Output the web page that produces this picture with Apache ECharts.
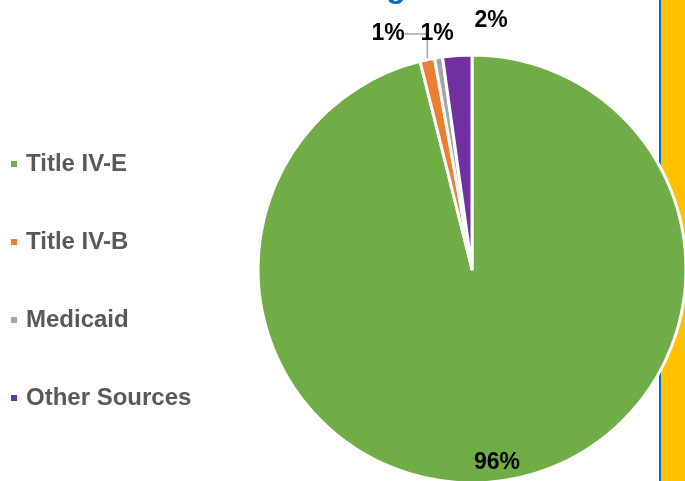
<!DOCTYPE html>
<html>
<head>
<meta charset="utf-8">
<script src="https://cdn.jsdelivr.net/npm/echarts@6/dist/echarts.min.js"></script>
<style>
html,body{margin:0;padding:0;background:#fff;}
#chart{width:685px;height:481px;}
</style>
</head>
<body>
<div id="chart"></div>
<script>
const categories = ['Title IV-E', 'Title IV-B', 'Medicaid', 'Other Sources'];
const values = [96.1, 1.1, 0.6, 2.2];
const sliceColors = ['#70AD47', '#ED7D31', '#A5A5A5', '#7030A0'];
const titleTail = 'g';

// label anchor positions (layout only)
const labelPos = [[497, 463], [388, 34], [437, 34], [491, 21]];

const chart = echarts.init(document.getElementById('chart'));
const FONT = '"Liberation Sans", Arial, sans-serif';

const data = categories.map((name, i) => ({
  name: name,
  value: values[i],
  itemStyle: { color: sliceColors[i] },
  label: { position: i === 0 ? 'inside' : 'outside' },
  labelLine: { show: i === 1, lineStyle: { color: '#A6A6A6', width: 1.5 } }
}));

chart.setOption({
  animation: false,
  backgroundColor: '#ffffff',
  graphic: [
    { type: 'rect', z: 0, shape: { x: 661, y: 0, width: 30, height: 481 }, style: { fill: '#FFC000' } },
    { type: 'rect', z: 0, shape: { x: 659, y: 0, width: 2, height: 481 }, style: { fill: '#0070C0' } },
    { type: 'text', z: 0, x: 396, y: -12, style: { text: titleTail, font: 'bold 32px ' + FONT, fill: '#0070C0', align: 'center', verticalAlign: 'middle' } }
  ],
  legend: {
    orient: 'vertical',
    left: 9,
    top: 152,
    padding: 0,
    itemGap: 54,
    itemWidth: 8,
    itemHeight: 8,
    icon: 'rect',
    selectedMode: false,
    data: categories,
    textStyle: { fontFamily: FONT, fontSize: 24, fontWeight: 'bold', color: '#595959', lineHeight: 24, padding: [0, 0, 0, 3] }
  },
  series: [{
    type: 'pie',
    z: 2,
    center: [472, 269],
    radius: 214,
    startAngle: 90,
    clockwise: true,
    avoidLabelOverlap: false,
    itemStyle: { borderColor: '#ffffff', borderWidth: 3 },
    label: {
      show: true,
      formatter: p => Math.round(p.value) + '%',
      fontFamily: FONT,
      fontSize: 23,
      fontWeight: 'bold',
      color: '#000000'
    },
    labelLayout: function (params) {
      const p = labelPos[params.dataIndex];
      return { x: p[0], y: p[1], align: 'center', verticalAlign: 'middle' };
    },
    emphasis: { disabled: true },
    data: data
  }]
});
</script>
</body>
</html>
